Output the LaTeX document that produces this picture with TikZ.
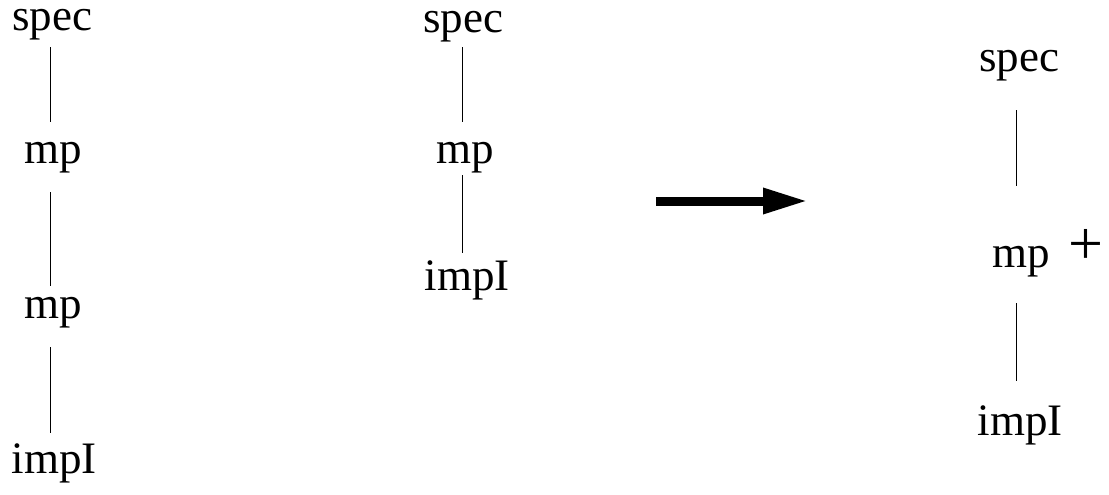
\documentclass[tikz,border=0pt]{standalone}
\usepackage{fontspec}
\setmainfont{Liberation Serif}
\usetikzlibrary{arrows.meta}
\begin{document}
\begin{tikzpicture}[x=1pt,y=-1pt,
  lbl/.style={inner sep=0pt,anchor=base,font=\fontsize{45}{50}\selectfont},
  plus/.style={inner sep=0pt,anchor=base,font=\fontsize{62}{66}\selectfont},
  link/.style={line width=1pt},
  bigarrow/.style={line width=9pt,-{Triangle[length=45pt,width=24pt]}}]
\useasboundingbox (0,0) rectangle (1109,495);
% column 1
\node[lbl] (s1) at (52,31) {spec};
\node[lbl] (m1) at (53,163) {mp};
\node[lbl] (m2) at (53,318) {mp};
\node[lbl] (i1) at (54,473) {impI};
\draw[link,shorten <=6.5pt,shorten >=19.5pt] (s1.south -| 50,0) -- (m1.north -| 50,0);
\draw[link,shorten <=19.5pt,shorten >=10.5pt] (m1.south -| 50,0) -- (m2.north -| 50,0);
\draw[link,shorten <=19.5pt,shorten >=10.5pt] (m2.south -| 50,0) -- (i1.north -| 50,0);
% column 2
\node[lbl] (s2) at (463,33) {spec};
\node[lbl] (m3) at (465,163) {mp};
\node[lbl] (i2) at (467,290) {impI};
\draw[link,shorten <=4.5pt,shorten >=19.5pt] (s2.south -| 462,0) -- (m3.north -| 462,0);
\draw[link,shorten <=2.5pt,shorten >=7.5pt] (m3.south -| 462,0) -- (i2.north -| 462,0);
% arrow
\coordinate (a0) at (656,201);
\coordinate (a1) at (808,201);
\draw[bigarrow] (a0) -- (a1);
% column 3
\node[lbl] (s3) at (1019,72) {spec};
\node[lbl] (m4) at (1021,267) {mp};
\node[plus] (p4) at (1086,264) {+};
\node[lbl] (i3) at (1020,435) {impI};
\draw[link,shorten <=28.5pt,shorten >=59.5pt] (s3.south -| 1016,0) -- (m4.north -| 1016,0);
\draw[link,shorten <=26.5pt,shorten >=24.5pt] (m4.south -| 1016,0) -- (i3.north -| 1016,0);
\end{tikzpicture}
\end{document}
